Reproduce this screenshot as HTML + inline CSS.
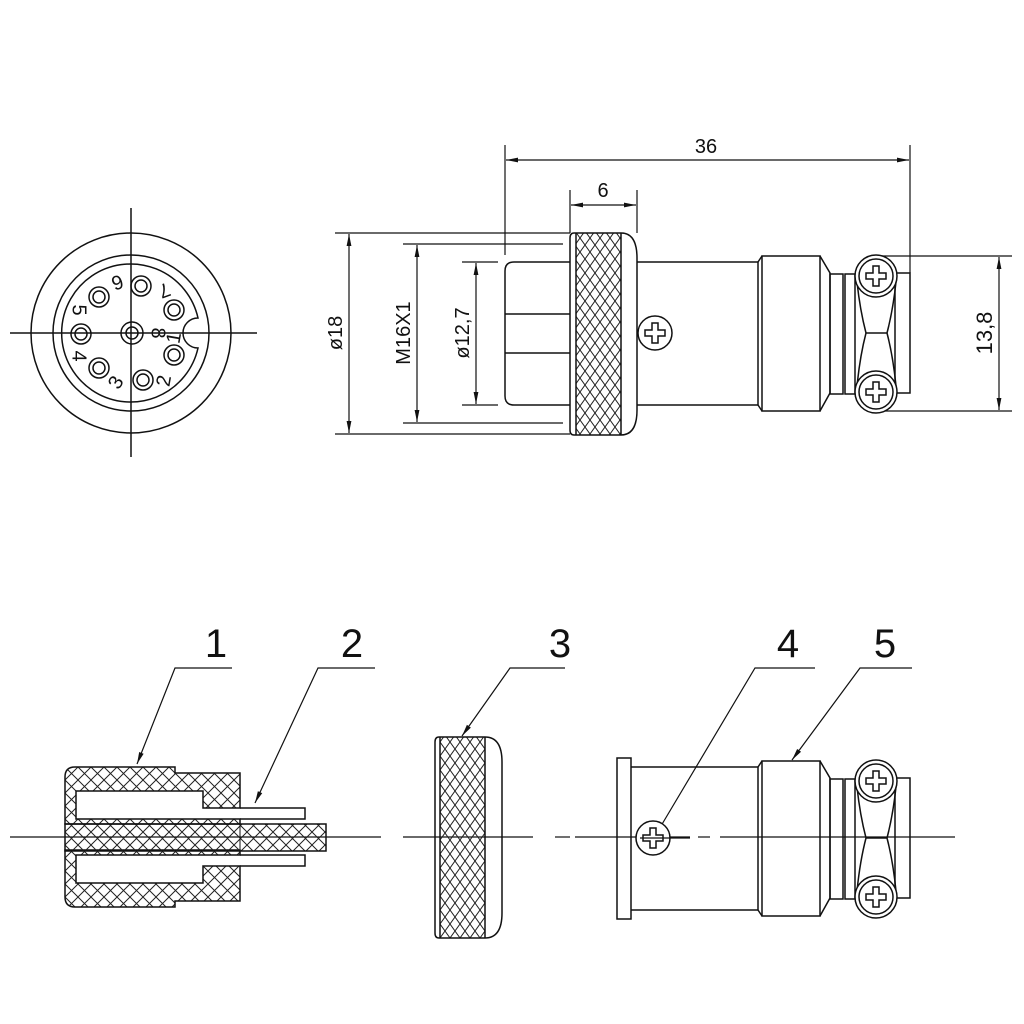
<!DOCTYPE html>
<html><head><meta charset="utf-8"><style>
html,body{margin:0;padding:0;background:#fff;}
svg{display:block;}
text{font-family:"Liberation Sans",sans-serif;fill:#111;}
</style></head><body>
<svg width="1024" height="1024" viewBox="0 0 1024 1024" xmlns="http://www.w3.org/2000/svg">
<defs>
<pattern id="kn" width="10" height="14" patternUnits="userSpaceOnUse">
<path d="M0,0 L10,14 M10,0 L0,14" stroke="#222" stroke-width="1" fill="none"/>
</pattern>
<pattern id="kh" width="13" height="13" patternUnits="userSpaceOnUse">
<path d="M0,0 L13,13 M13,0 L0,13" stroke="#222" stroke-width="1" fill="none"/>
</pattern>
<marker id="ar" viewBox="0 0 10 10" refX="10" refY="5" markerWidth="12" markerHeight="12" orient="auto-start-reverse" markerUnits="userSpaceOnUse">
<path d="M0,3 L10,5 L0,7 Z" fill="#111"/>
</marker>
<g id="screw">
<circle r="17" fill="#fff" stroke="#111" stroke-width="1.5"/>
<path d="M-3,-10 H3 V-3 H10 V3 H3 V10 H-3 V3 H-10 V-3 H-3 Z" fill="none" stroke="#111" stroke-width="1.5"/>
</g>
<g id="tail" fill="none" stroke="#111" stroke-width="1.5">
<rect x="762" y="256" width="58" height="155"/>
<line x1="758" y1="262" x2="762" y2="256"/><line x1="758" y1="405" x2="762" y2="411"/>
<path d="M820,256 L830,273 L830,393 L820,411"/>
<rect x="830" y="274" width="13" height="120"/>
<rect x="845" y="274" width="10" height="120"/>
<rect x="895" y="273" width="15" height="120"/>
<path d="M857,282 Q860,310 866,333 Q860,356 857,386"/>
<path d="M896,282 Q893,310 887,333 Q893,356 896,386"/>
<line x1="866" y1="333" x2="887" y2="333"/>
<circle cx="876" cy="276" r="21" fill="#fff"/>
<circle cx="876" cy="392" r="21" fill="#fff"/>
<use href="#screw" x="876" y="276"/>
<use href="#screw" x="876" y="392"/>
</g>
</defs>

<g fill="none" stroke="#111" stroke-width="1.5">
<line x1="10" y1="333" x2="257" y2="333"/>
<line x1="131" y1="208" x2="131" y2="457"/>
<circle cx="131" cy="333" r="100"/>
<circle cx="131" cy="333" r="78"/>
<path d="M198,318 A69,69 0 1 0 198,348 A15,15 0 0 1 198,318 Z"/>
<g>
<circle cx="141" cy="286" r="10"/><circle cx="141" cy="286" r="6"/>
<circle cx="174" cy="310" r="10"/><circle cx="174" cy="310" r="6"/>
<circle cx="174" cy="355" r="10"/><circle cx="174" cy="355" r="6"/>
<circle cx="143" cy="380" r="10"/><circle cx="143" cy="380" r="6"/>
<circle cx="99" cy="368" r="10"/><circle cx="99" cy="368" r="6"/>
<circle cx="81" cy="334" r="10"/><circle cx="81" cy="334" r="6"/>
<circle cx="99" cy="297" r="10"/><circle cx="99" cy="297" r="6"/>
<circle cx="132" cy="333" r="11"/><circle cx="132" cy="333" r="6"/>
</g>
</g>
<g font-size="20">
<text transform="translate(117,281) rotate(160)" text-anchor="middle" dominant-baseline="middle">6</text>
<text transform="translate(164,289) rotate(160)" text-anchor="middle" dominant-baseline="middle">7</text>
<text transform="translate(78,310) rotate(90)" text-anchor="middle" dominant-baseline="middle">5</text>
<text transform="translate(78,356) rotate(90)" text-anchor="middle" dominant-baseline="middle">4</text>
<text transform="translate(117,383) rotate(-60)" text-anchor="middle" dominant-baseline="middle">3</text>
<text transform="translate(165,381) rotate(-80)" text-anchor="middle" dominant-baseline="middle">2</text>
<text transform="translate(175,338) rotate(-80)" text-anchor="middle" dominant-baseline="middle">1</text>
<text transform="translate(157,333) rotate(90)" text-anchor="middle" dominant-baseline="middle">8</text>
</g>

<g fill="none" stroke="#111" stroke-width="1.5">
<line x1="335" y1="233" x2="570" y2="233" stroke-width="1.2"/>
<line x1="335" y1="434" x2="570" y2="434" stroke-width="1.2"/>
<line x1="349" y1="234" x2="349" y2="433" stroke-width="1.2" marker-start="url(#ar)" marker-end="url(#ar)"/>
<line x1="403" y1="244" x2="563" y2="244" stroke-width="1.2"/>
<line x1="403" y1="423" x2="563" y2="423" stroke-width="1.2"/>
<line x1="417" y1="245" x2="417" y2="422" stroke-width="1.2" marker-start="url(#ar)" marker-end="url(#ar)"/>
<line x1="462" y1="262" x2="498" y2="262" stroke-width="1.2"/>
<line x1="462" y1="405" x2="498" y2="405" stroke-width="1.2"/>
<line x1="476" y1="263" x2="476" y2="404" stroke-width="1.2" marker-start="url(#ar)" marker-end="url(#ar)"/>
<line x1="505" y1="145" x2="505" y2="255" stroke-width="1.2"/>
<line x1="910" y1="145" x2="910" y2="273" stroke-width="1.2"/>
<line x1="506" y1="160" x2="909" y2="160" stroke-width="1.2" marker-start="url(#ar)" marker-end="url(#ar)"/>
<line x1="570" y1="190" x2="570" y2="233" stroke-width="1.2"/>
<line x1="637" y1="190" x2="637" y2="233" stroke-width="1.2"/>
<line x1="571" y1="205" x2="636" y2="205" stroke-width="1.2" marker-start="url(#ar)" marker-end="url(#ar)"/>
<line x1="880" y1="256" x2="1012" y2="256" stroke-width="1.2"/>
<line x1="880" y1="411" x2="1012" y2="411" stroke-width="1.2"/>
<line x1="999" y1="257" x2="999" y2="410" stroke-width="1.2" marker-start="url(#ar)" marker-end="url(#ar)"/>
<path d="M570,262 H514 Q505,262 505,271 V396 Q505,405 514,405 H570"/>
<line x1="505" y1="314" x2="570" y2="314"/>
<line x1="505" y1="353" x2="570" y2="353"/>
<rect x="576" y="233" width="45" height="202" fill="url(#kn)" stroke="none"/>
<path d="M574,233 H621 Q637,233 637,258 V410 Q637,435 621,435 H574 Q570,435 570,430 V238 Q570,233 574,233 Z"/>
<line x1="576" y1="233" x2="576" y2="435"/>
<line x1="621" y1="233" x2="621" y2="435"/>
<line x1="637" y1="262" x2="758" y2="262"/>
<line x1="637" y1="405" x2="758" y2="405"/>
<line x1="758" y1="262" x2="758" y2="405"/>
</g>
<use href="#screw" x="655" y="333"/>
<use href="#tail"/>
<text x="706" y="153" font-size="20" text-anchor="middle">36</text>
<text x="603" y="197" font-size="20" text-anchor="middle">6</text>
<text transform="translate(342,333) rotate(-90)" font-size="20" text-anchor="middle">ø18</text>
<text transform="translate(410,333) rotate(-90)" font-size="20" text-anchor="middle">M16X1</text>
<text transform="translate(469,333) rotate(-90)" font-size="20" text-anchor="middle">ø12,7</text>
<text transform="translate(992,333) rotate(-90)" font-size="22" text-anchor="middle">13,8</text>

<g fill="none" stroke="#111" stroke-width="1.5">
<line x1="10" y1="837" x2="381" y2="837" stroke-width="1.2"/>
<path d="M75,767 H175 V773 H240 V808 H203 V791 H76 V819 H240 V824 H65 V777 Q65,767 75,767 Z" fill="url(#kh)"/>
<path d="M75,907 H175 V901 H240 V866 H203 V883 H76 V855 H240 V850 H65 V897 Q65,907 75,907 Z" fill="url(#kh)"/>
<rect x="65" y="824" width="261" height="27" fill="url(#kh)"/>
<path d="M240,808 H305 V819 H240"/>
<path d="M240,866 H305 V855 H240"/>
<line x1="240" y1="819" x2="240" y2="855" stroke-width="1"/>
<line x1="403" y1="837" x2="533" y2="837" stroke-width="1.2"/>
<line x1="555" y1="837" x2="570" y2="837" stroke-width="1.2"/>
<rect x="440" y="737" width="45" height="201" fill="url(#kn)" stroke="none"/>
<path d="M439,737 H485 Q502,737 502,762 V913 Q502,938 485,938 H439 Q435,938 435,933 V742 Q435,737 439,737 Z"/>
<line x1="440" y1="737" x2="440" y2="938"/>
<line x1="485" y1="737" x2="485" y2="938"/>
<line x1="575" y1="837" x2="690" y2="837" stroke-width="1.2"/>
<line x1="698" y1="837" x2="710" y2="837" stroke-width="1.2"/>
<line x1="720" y1="837" x2="955" y2="837" stroke-width="1.2"/>
<rect x="617" y="758" width="14" height="161"/>
<line x1="631" y1="767" x2="758" y2="767"/>
<line x1="631" y1="910" x2="758" y2="910"/>
<line x1="758" y1="767" x2="758" y2="910"/>
<path d="M137,764 L175,668 H232" stroke-width="1.2" marker-start="url(#ar)"/>
<path d="M255,803 L318,668 H375" stroke-width="1.2" marker-start="url(#ar)"/>
<path d="M462,736 L510,668 H565" stroke-width="1.2" marker-start="url(#ar)"/>
<path d="M655,836 L755,668 H815" stroke-width="1.2" marker-start="url(#ar)"/>
<path d="M792,760 L860,668 H912" stroke-width="1.2" marker-start="url(#ar)"/>
</g>
<use href="#screw" x="653" y="838"/>
<line x1="640" y1="838" x2="690" y2="838" stroke="#111" stroke-width="1.2"/>
<use href="#tail" y="505"/>
<g font-size="40" text-anchor="middle">
<text x="216" y="657">1</text>
<text x="352" y="657">2</text>
<text x="560" y="657">3</text>
<text x="788" y="657">4</text>
<text x="885" y="657">5</text>
</g>
</svg>
</body></html>
